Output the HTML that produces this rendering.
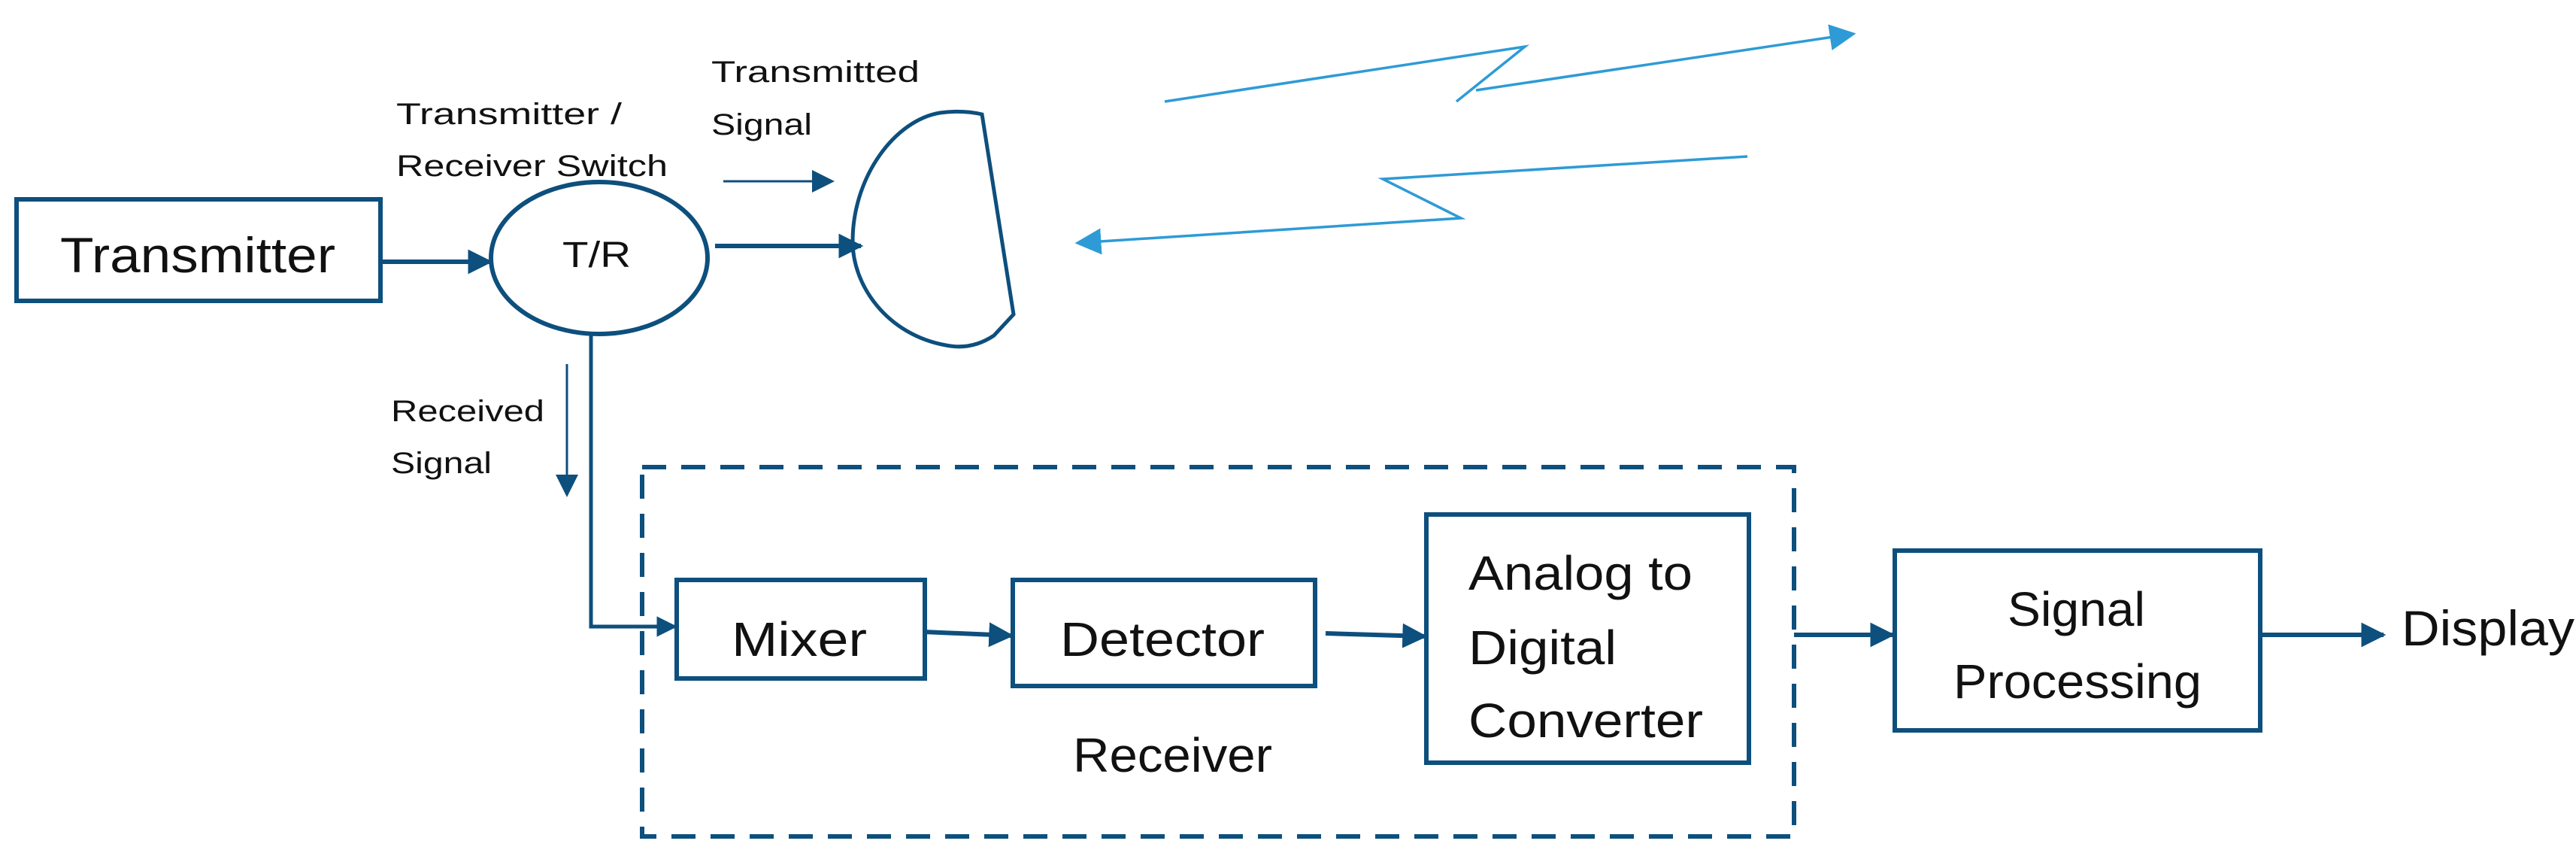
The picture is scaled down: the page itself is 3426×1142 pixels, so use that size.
<!DOCTYPE html>
<html><head><meta charset="utf-8"><style>
html,body{margin:0;padding:0;background:#fff;}
svg{display:block;}
text{font-family:"Liberation Sans",sans-serif;fill:#111;}
</style></head><body>
<svg width="3426" height="1142" viewBox="0 0 3426 1142" xmlns="http://www.w3.org/2000/svg">
<defs>
<marker id="ah" viewBox="0 0 10 10" refX="9" refY="5" markerWidth="5.5" markerHeight="6" orient="auto" markerUnits="strokeWidth"><path d="M0,0 L10,5 L0,10 Z" fill="#0d4f7d"/></marker>
<marker id="ahs" viewBox="0 0 10 10" refX="9" refY="5" markerWidth="10" markerHeight="11" orient="auto" markerUnits="strokeWidth"><path d="M0,0 L10,5 L0,10 Z" fill="#0d4f7d"/></marker>
<marker id="ahl" viewBox="0 0 10 10" refX="9" refY="5" markerWidth="10" markerHeight="11" orient="auto" markerUnits="strokeWidth"><path d="M0,0 L10,5 L0,10 Z" fill="#2e9bd6"/></marker>
</defs>
<g fill="none" stroke="#0d4f7d" stroke-width="6">
<rect x="22" y="265" width="484" height="135"/>
<ellipse cx="797" cy="343" rx="144" ry="101"/>
<path d="M1306,152 L1348,418 L1322,446 Q1292,466 1258,459 C1180,445 1134,380 1134,321 C1134,235 1190,160 1250,150 Q1280,146 1306,152 Z" stroke-width="5"/>
<rect x="900" y="771" width="330" height="131"/>
<rect x="1347" y="771" width="402" height="141"/>
<rect x="1897" y="684" width="429" height="330"/>
<rect x="2520" y="732" width="486" height="239"/>
<rect x="854" y="621" width="1532" height="491" stroke-dasharray="32 20"/>
<line x1="507" y1="348" x2="652" y2="348" marker-end="url(#ah)"/>
<line x1="951" y1="327" x2="1145" y2="327" marker-end="url(#ah)"/>
<line x1="962" y1="241" x2="1107" y2="241" stroke-width="3" marker-end="url(#ahs)"/>
<line x1="754" y1="484" x2="754" y2="658" stroke-width="3" marker-end="url(#ahs)"/>
<polyline points="786,446 786,833 898,833" stroke-width="5" marker-end="url(#ah)"/>
<line x1="1228" y1="840" x2="1345" y2="845" marker-end="url(#ah)"/>
<line x1="1763" y1="842" x2="1895" y2="846" marker-end="url(#ah)"/>
<line x1="2386" y1="844" x2="2517" y2="844" marker-end="url(#ah)"/>
<line x1="3006" y1="844" x2="3170" y2="844" marker-end="url(#ah)"/>
</g>
<g fill="none" stroke="#2e9bd6" stroke-width="3.5">
<polyline points="1549,135 2028,62 1937,135"/>
<polyline points="1963,120 2465,45" marker-end="url(#ahl)"/>
<polyline points="2324,208 1839,238 1943,290 1433,323" marker-end="url(#ahl)"/>
</g>
<text x="80" y="362" font-size="66" textLength="366" lengthAdjust="spacingAndGlyphs">Transmitter</text>
<text x="748" y="355" font-size="48" textLength="91" lengthAdjust="spacingAndGlyphs">T/R</text>
<text x="527" y="165" font-size="40" textLength="300" lengthAdjust="spacingAndGlyphs">Transmitter /</text>
<text x="527" y="234" font-size="40" textLength="361" lengthAdjust="spacingAndGlyphs">Receiver Switch</text>
<text x="946" y="109" font-size="40" textLength="277" lengthAdjust="spacingAndGlyphs">Transmitted</text>
<text x="946" y="179" font-size="40" textLength="134" lengthAdjust="spacingAndGlyphs">Signal</text>
<text x="520" y="560" font-size="40" textLength="204" lengthAdjust="spacingAndGlyphs">Received</text>
<text x="520" y="629" font-size="40" textLength="134" lengthAdjust="spacingAndGlyphs">Signal</text>
<text x="973" y="872" font-size="64" textLength="180" lengthAdjust="spacingAndGlyphs">Mixer</text>
<text x="1410" y="872" font-size="64" textLength="272" lengthAdjust="spacingAndGlyphs">Detector</text>
<text x="1953" y="784" font-size="64" textLength="298" lengthAdjust="spacingAndGlyphs">Analog to</text>
<text x="1953" y="883" font-size="64" textLength="197" lengthAdjust="spacingAndGlyphs">Digital</text>
<text x="1953" y="980" font-size="64" textLength="312" lengthAdjust="spacingAndGlyphs">Converter</text>
<text x="1427" y="1026" font-size="64" textLength="265" lengthAdjust="spacingAndGlyphs">Receiver</text>
<text x="2670" y="832" font-size="64" textLength="183" lengthAdjust="spacingAndGlyphs">Signal</text>
<text x="2598" y="928" font-size="64" textLength="330" lengthAdjust="spacingAndGlyphs">Processing</text>
<text x="3194" y="858" font-size="66" textLength="230" lengthAdjust="spacingAndGlyphs">Display</text>
</svg>
</body></html>
